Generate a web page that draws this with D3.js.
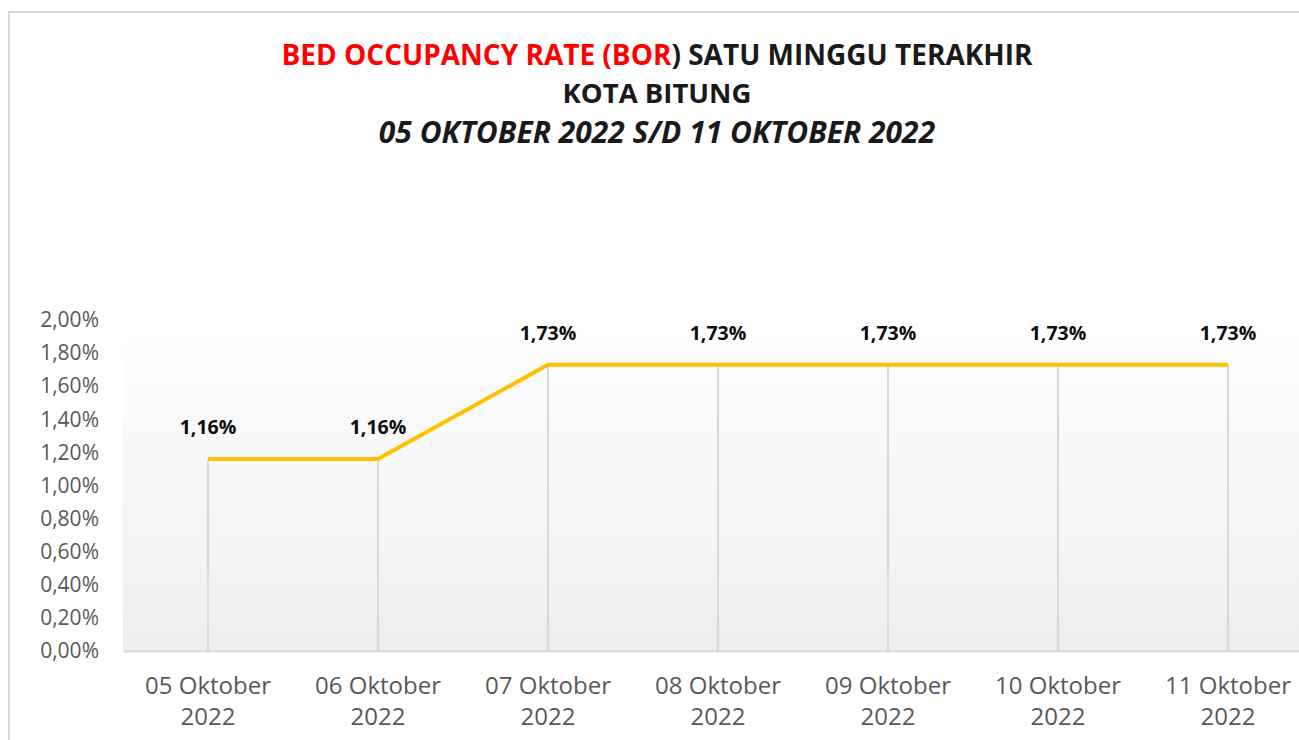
<!DOCTYPE html>
<html>
<head>
<meta charset="utf-8">
<script src="https://cdn.jsdelivr.net/npm/d3@7"></script>
<style>
  html, body { margin: 0; padding: 0; background: #fff; }
  svg { display: block; }
</style>
</head>
<body>
<script>
const categories = ["05 Oktober 2022", "06 Oktober 2022", "07 Oktober 2022", "08 Oktober 2022", "09 Oktober 2022", "10 Oktober 2022", "11 Oktober 2022"];
const borValues = [1.16, 1.16, 1.73, 1.73, 1.73, 1.73, 1.73];
const yTicks = [0, 0.2, 0.4, 0.6, 0.8, 1.0, 1.2, 1.4, 1.6, 1.8, 2.0];
const titleRed = "BED OCCUPANCY RATE (BOR";
const titleBlack = ") SATU MINGGU TERAKHIR";
const titleLine2 = "KOTA BITUNG";
const titleLine3 = "05 OKTOBER 2022 S/D 11 OKTOBER 2022";

const W = 1299, H = 740;
const fmt = v => v.toFixed(2).replace(".", ",") + "%";

const svg = d3.select("body").append("svg").attr("width", W).attr("height", H);

// chart border
svg.append("rect").attr("x", 9).attr("y", 12).attr("width", W + 20).attr("height", H + 20)
  .attr("fill", "#fff").attr("stroke", "#d9d9d9").attr("stroke-width", 2);

const plot = { left: 123, right: 1313, top: 320, bottom: 651 };

const x = d3.scaleBand().domain(categories).range([plot.left, plot.right]).padding(0);
const y = d3.scaleLinear().domain([0, 2]).range([plot.bottom, plot.top]);

// gradient plot area
const defs = svg.append("defs");
const grad = defs.append("linearGradient").attr("id", "pa").attr("x1", 0).attr("y1", 0).attr("x2", 0).attr("y2", 1);
grad.append("stop").attr("offset", "0%").attr("stop-color", "#ffffff");
grad.append("stop").attr("offset", "100%").attr("stop-color", "#eeeeee");
svg.append("rect").attr("x", plot.left).attr("y", plot.top)
  .attr("width", plot.right - plot.left).attr("height", plot.bottom - plot.top)
  .attr("fill", "url(#pa)");

// title
const title = svg.append("g").attr("font-family", "'Open Sans', sans-serif").attr("font-weight", "bold")
  .attr("text-anchor", "middle");
const t1 = title.append("text").attr("x", 657).attr("y", 65).attr("font-size", 28);
t1.append("tspan").attr("fill", "#ff0000").text(titleRed);
t1.append("tspan").attr("fill", "#1a1a1a").text(titleBlack);
title.append("text").attr("x", 657).attr("y", 103).attr("font-size", 27.5).attr("fill", "#1a1a1a").text(titleLine2);
title.append("text").attr("x", 657).attr("y", 143).attr("font-size", 30).attr("font-style", "italic")
  .attr("fill", "#1a1a1a").text(titleLine3);

// y axis (no line)
const yAxis = svg.append("g").attr("transform", `translate(${plot.left},0)`)
  .call(d3.axisLeft(y).tickValues(yTicks).tickFormat(fmt).tickSize(0).tickPadding(24));
yAxis.select(".domain").remove();
yAxis.selectAll("text").attr("font-family", "'Open Sans', sans-serif").attr("font-size", 21).attr("fill", "#595959");

// x axis
const xAxis = svg.append("g").attr("transform", `translate(0,${plot.bottom})`)
  .call(d3.axisBottom(x).tickSize(0).tickPadding(0));
xAxis.select(".domain").attr("stroke", "#d9d9d9").attr("stroke-width", 2);
xAxis.selectAll(".tick text").each(function(d) {
  const t = d3.select(this);
  const parts = d.split(" ");
  t.text(null).attr("font-family", "'Open Sans', sans-serif").attr("font-size", 24).attr("fill", "#595959").attr("y", 0).attr("dy", 0);
  t.append("tspan").attr("x", 0).attr("y", 43).text(parts[0] + " " + parts[1]);
  t.append("tspan").attr("x", 0).attr("y", 74).text(parts[2]);
});

const cx = d => x(d) + x.bandwidth() / 2;
const data = categories.map((c, i) => ({ c, v: borValues[i] }));

// drop lines
svg.append("g").selectAll("line").data(data).join("line")
  .attr("x1", d => cx(d.c)).attr("x2", d => cx(d.c))
  .attr("y1", d => y(d.v)).attr("y2", plot.bottom)
  .attr("stroke", "#d9d9d9").attr("stroke-width", 2);

// line
svg.append("path").datum(data)
  .attr("d", d3.line().x(d => cx(d.c)).y(d => y(d.v)))
  .attr("fill", "none").attr("stroke", "#ffc000").attr("stroke-width", 4).attr("stroke-linejoin", "round");

// data labels
svg.append("g").selectAll("text").data(data).join("text")
  .attr("x", d => cx(d.c)).attr("y", d => y(d.v) - 25)
  .attr("text-anchor", "middle").attr("font-family", "'Open Sans', sans-serif").attr("font-weight", "bold")
  .attr("font-size", 19.5).attr("fill", "#0d0d0d").text(d => fmt(d.v));
</script>
</body>
</html>
